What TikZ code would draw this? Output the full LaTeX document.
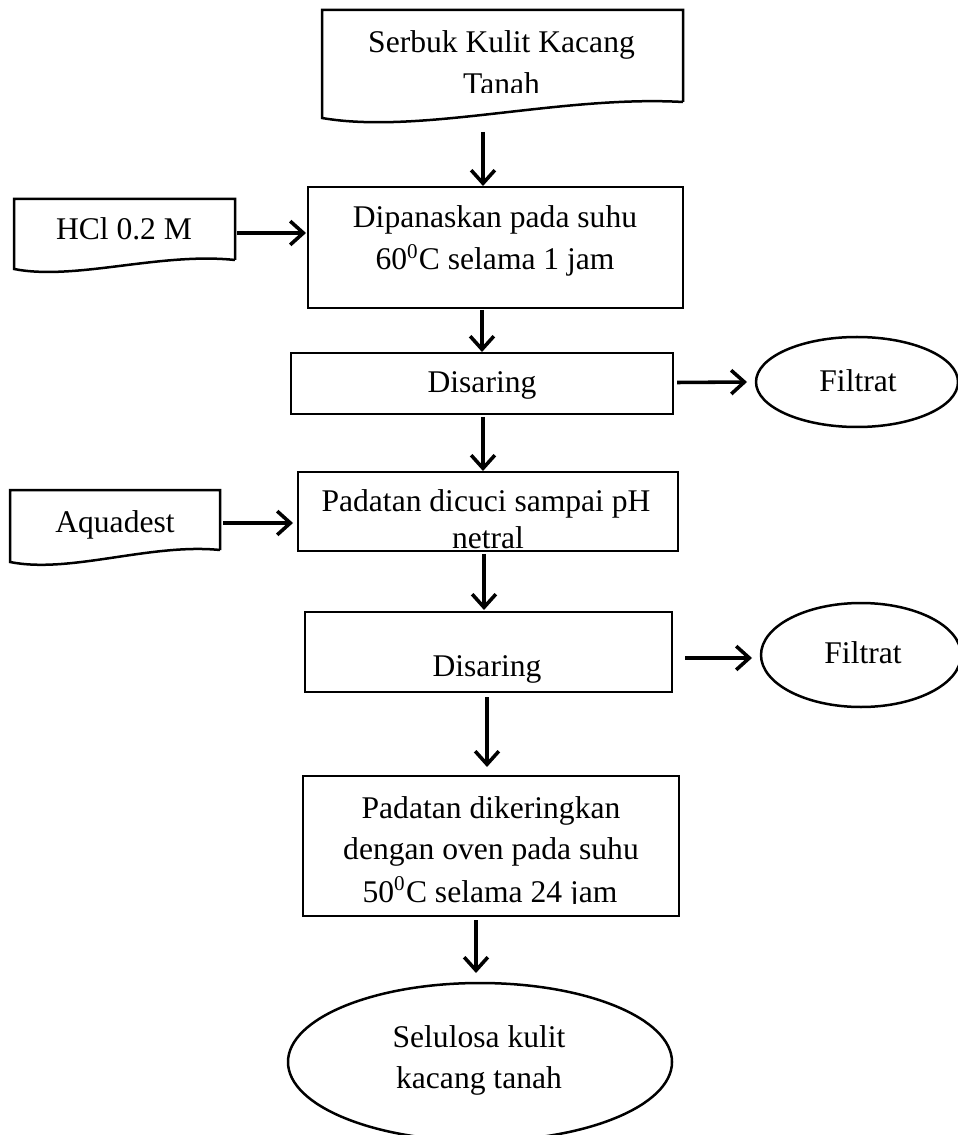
\documentclass[tikz,border=0pt]{standalone}
\usepackage{fontspec}
\setmainfont{Liberation Serif}
\usetikzlibrary{arrows.meta,shapes.geometric,calc}

\begin{document}
\begin{tikzpicture}[x=0.38pt,y=-0.38pt,
  every node/.style={font=\fontsize{12}{16}\selectfont, inner sep=0pt, outer sep=0pt},
  outline/.style={line width=0.95pt},
  frame/.style 2 args={draw, line width=0.95pt, minimum width=#1*0.38pt, minimum height=#2*0.38pt},
  area/.style 2 args={minimum width=#1*0.38pt, minimum height=#2*0.38pt},
  oval/.style 2 args={draw, ellipse, line width=0.95pt, minimum width=#1*0.38pt, minimum height=#2*0.38pt},
  txt/.style={anchor=base},
  arr/.style={line width=1.35pt, -{Straight Barb[length=5pt,width=9pt,line width=1.35pt]}}
]
\useasboundingbox (0,0) rectangle (958,1135);

% columns and rows used by the connectors
\coordinate (c1) at (483,0);
\coordinate (c2) at (482,0);
\coordinate (c3) at (483,0);
\coordinate (c4) at (484,0);
\coordinate (c5) at (487,0);
\coordinate (c6) at (476,0);
\coordinate (r8) at (0,658);

% ---- input: peanut shell powder (document shape)
\node[area={361}{92}] (powder) at (502.5,56) {};
\draw[outline] (683,102) -- (683,10) -- (322,10) -- (322,118)
  .. controls (420,135) and (560,95) .. (683,102);
\node[txt] (powder-l1) at (501.5,53) {Serbuk Kulit Kacang};
\begin{scope}
  \clip (322,10) rectangle (683,92.5);
  \node[txt] (powder-l2) at (501.5,95) {Tanah};
\end{scope}

% ---- reagent: HCl
\node[area={221}{68}] (hcl) at (124.5,233) {};
\draw[outline] (235,260) -- (235,199) -- (14,199) -- (14,269)
  .. controls (75,281) and (160,252) .. (235,260);
\node[txt] (hcl-l1) at (124,240) {HCl 0.2 M};

% ---- heating step
\node[frame={375}{121}] (heat) at (495.5,247.5) {};
\node[txt] (heat-l1) at (495,228) {Dipanaskan pada suhu};
\node[txt] (heat-l2) at (495,270) {60\textsuperscript{0}C selama 1 jam};

% ---- first filtration
\node[frame={382}{61}] (filter1) at (482,383.5) {};
\node[txt] (filter1-l1) at (482,393) {Disaring};
\node[oval={202}{90}] (filtrat1) at (857,382) {};
\node[txt] (filtrat1-l1) at (858,392) {Filtrat};

% ---- washing
\node[area={210}{66}] (aqua) at (115,523) {};
\draw[outline] (220,550) -- (220,490) -- (10,490) -- (10,562)
  .. controls (70,574) and (150,543) .. (220,550);
\node[txt] (aqua-l1) at (115,532) {Aquadest};
\node[frame={380}{79}] (wash) at (488,511.5) {};
\node[txt] (wash-l1) at (486,511) {Padatan dicuci sampai pH};
\node[txt] (wash-l2) at (488,548) {netral};

% ---- second filtration
\node[frame={367}{80}] (filter2) at (488.5,652) {};
\node[txt] (filter2-l1) at (487,676) {Disaring};
\node[oval={200}{104}] (filtrat2) at (861,655) {};
\node[txt] (filtrat2-l1) at (863,663) {Filtrat};

% ---- drying
\node[frame={376}{140}] (dry) at (491,846) {};
\node[txt] (dry-l1) at (491,818) {Padatan dikeringkan};
\node[txt] (dry-l2) at (491,859) {dengan oven pada suhu};
\begin{scope}
  \clip (303,870) rectangle (679,903.5);
  \node[txt] (dry-l3) at (490,902) {50\textsuperscript{0}C selama 24 jam};
\end{scope}

% ---- product
\node[oval={384}{158}] (product) at (480,1062) {};
\node[txt] (product-l1) at (479,1047) {Selulosa kulit};
\node[txt] (product-l2) at (479,1088) {kacang tanah};

% ---- connectors
\draw[arr] ($(powder.south -| c1)+(0,30)$) -- ($(heat.north -| c1)+(0,-1)$);
\draw[arr] ($(hcl.east)+(2,0)$) -- ($(heat.west |- hcl.east)+(-2,0)$);
\draw[arr] ($(heat.south -| c2)+(0,2)$) -- ($(filter1.north -| c2)+(0,-1)$);
\draw[arr] ($(filter1.east)+(4,-1)$) -- ($(filtrat1.west)+(-9,0)$);
\draw[arr] ($(filter1.south -| c3)+(0,3)$) -- ($(wash.north -| c3)+(0,-1)$);
\draw[arr] ($(aqua.east)+(3,0)$) -- ($(wash.west |- aqua.east)+(-5,0)$);
\draw[arr] ($(wash.south -| c4)+(0,3)$) -- ($(filter2.north -| c4)+(0,-2)$);
\draw[arr] ($(filter2.east |- r8)+(13,0)$) -- ($(filtrat2.west |- r8)+(-9,0)$);
\draw[arr] ($(filter2.south -| c5)+(0,5)$) -- ($(dry.north -| c5)+(0,-9)$);
\draw[arr] ($(dry.south -| c6)+(0,4)$) -- ($(product.north -| c6)+(0,-10)$);
\end{tikzpicture}
\end{document}
